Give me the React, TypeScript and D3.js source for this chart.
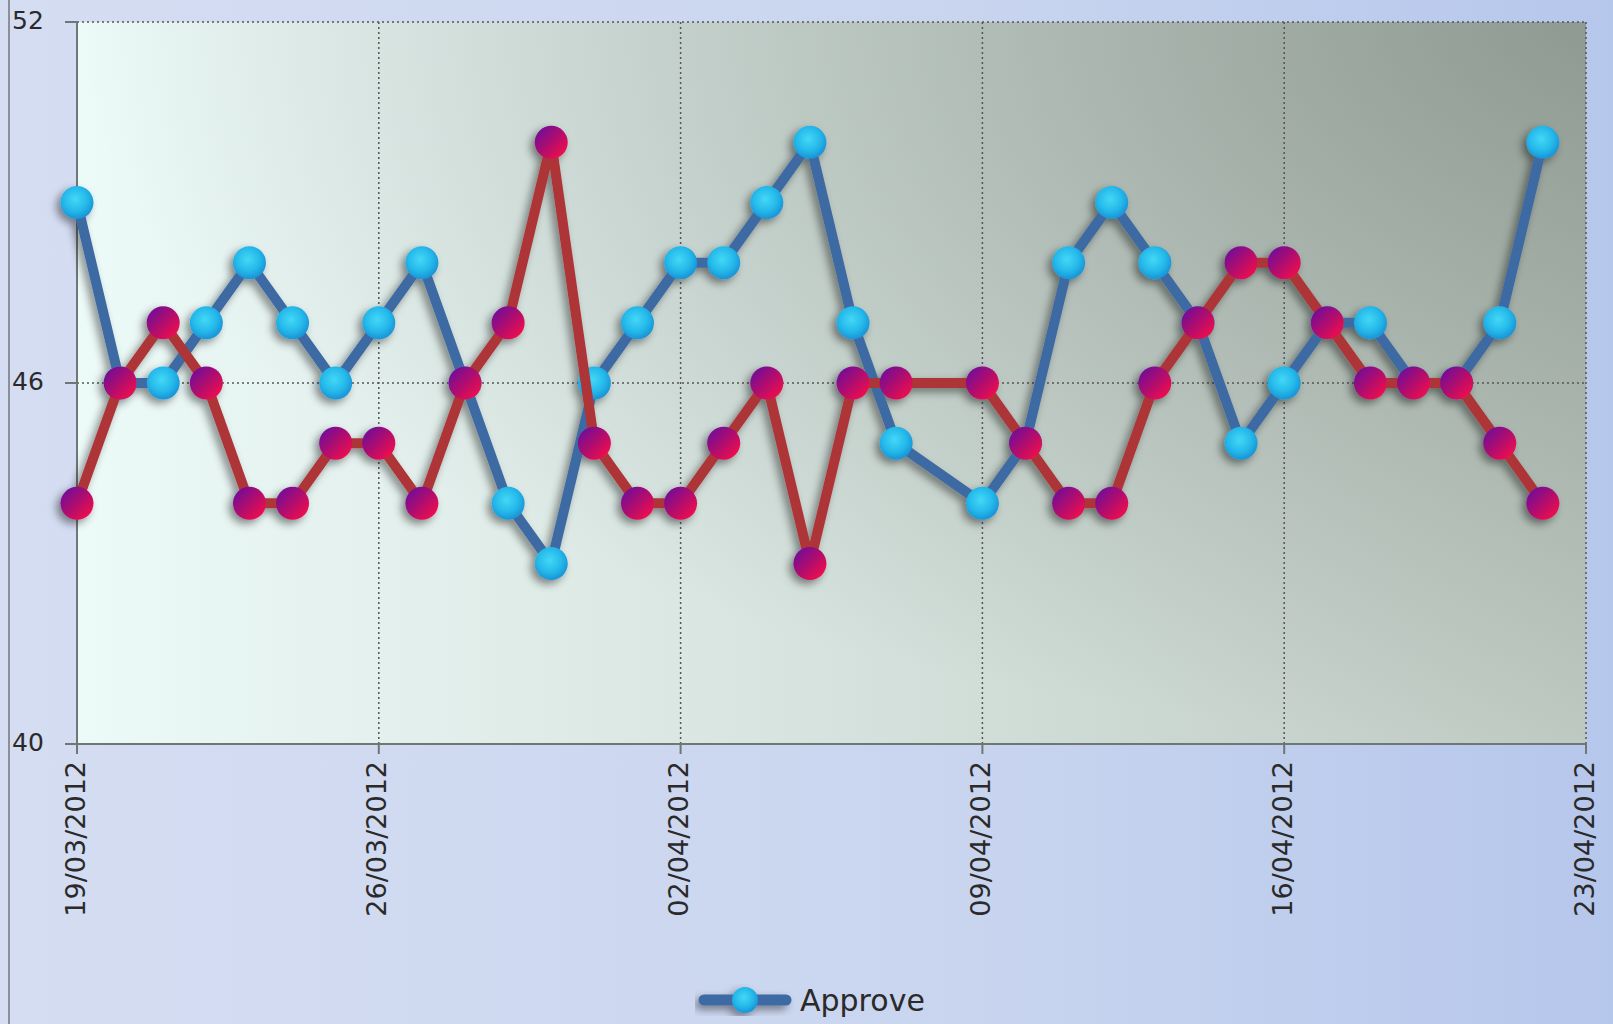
import React from 'react'
import * as d3 from 'd3'

// poll dates (08/04 missing in the source)
const dates = [
    '2012-03-19', '2012-03-20', '2012-03-21', '2012-03-22', '2012-03-23', '2012-03-24', '2012-03-25',
    '2012-03-26', '2012-03-27', '2012-03-28', '2012-03-29', '2012-03-30', '2012-03-31', '2012-04-01',
    '2012-04-02', '2012-04-03', '2012-04-04', '2012-04-05', '2012-04-06', '2012-04-07',
    '2012-04-09', '2012-04-10', '2012-04-11', '2012-04-12', '2012-04-13', '2012-04-14', '2012-04-15',
    '2012-04-16', '2012-04-17', '2012-04-18', '2012-04-19', '2012-04-20', '2012-04-21', '2012-04-22',
]
const approve = [
    49, 46, 46, 47, 48, 47, 46, 47, 48, 46, 44, 43, 46, 47, 48, 48, 49, 50, 47, 45,
    44, 45, 48, 49, 48, 47, 45, 46, 47, 47, 46, 46, 47, 50,
]
const disapprove = [
    44, 46, 47, 46, 44, 44, 45, 45, 44, 46, 47, 50, 45, 44, 44, 45, 46, 43, 46, 46,
    46, 45, 44, 44, 46, 47, 48, 48, 47, 46, 46, 46, 45, 44,
]
const xTicks = ['2012-03-19', '2012-03-26', '2012-04-02', '2012-04-09', '2012-04-16', '2012-04-23']
const yTicks = [40, 46, 52]

const W = 1613
const H = 1024
const plot = { left: 77, right: 1586, top: 22, bottom: 744 }
const font = '"DejaVu Sans", sans-serif'

const parse = d3.timeParse('%Y-%m-%d')
const fmt = d3.timeFormat('%d/%m/%Y')

export default function App() {
    const x = d3
        .scaleTime()
        .domain([parse(xTicks[0])!, parse(xTicks[xTicks.length - 1])!])
        .range([plot.left, plot.right])
    const y = d3.scaleLinear().domain([40, 52]).range([plot.bottom, plot.top])

    const series = [
        { name: 'Approve', values: approve, stroke: '#3d6aa2', marker: 'url(#blueBall)' },
        { name: 'Disapprove', values: disapprove, stroke: '#ad3538', marker: 'url(#redBall)' },
    ]

    const line = d3
        .line<{ d: Date; v: number }>()
        .x(p => x(p.d))
        .y(p => y(p.v))

    return (
        <svg
            width={W}
            height={H}
            style={{ position: 'fixed', left: 0, top: 0, fontFamily: font }}
        >
            <defs>
                <linearGradient id='pageBg' x1='0' y1='0' x2='1' y2='0'>
                    <stop offset='0' stopColor='#d5ddf2' />
                    <stop offset='0.6' stopColor='#c9d5ef' />
                    <stop offset='1' stopColor='#b6c7ec' />
                </linearGradient>
                <linearGradient id='plotBg' x1='0' y1='0' x2='1' y2='0'>
                    <stop offset='0' stopColor='#ecfaf8' />
                    <stop offset='0.5' stopColor='#d6e2dd' />
                    <stop offset='1' stopColor='#bdc9c1' />
                </linearGradient>
                <radialGradient id='plotShade' cx='1' cy='0' r='1'>
                    <stop offset='0' stopColor='#3c463e' stopOpacity='0.36' />
                    <stop offset='1' stopColor='#3c463e' stopOpacity='0' />
                </radialGradient>
                <radialGradient id='blueBall' cx='0.45' cy='0.4' r='0.6'>
                    <stop offset='0' stopColor='#43d8f6' />
                    <stop offset='0.6' stopColor='#25b9ea' />
                    <stop offset='1' stopColor='#1a93d6' />
                </radialGradient>
                <linearGradient id='redBall' x1='0.1' y1='0.1' x2='0.9' y2='0.9'>
                    <stop offset='0' stopColor='#6f0a9a' />
                    <stop offset='0.5' stopColor='#b00a6e' />
                    <stop offset='1' stopColor='#f4124a' />
                </linearGradient>
                <filter id='shadow' x='-10%' y='-10%' width='120%' height='120%'>
                    <feDropShadow dx='-4' dy='4' stdDeviation='4' floodColor='#000' floodOpacity='0.45' />
                </filter>
            </defs>

            <rect x={0} y={0} width={W} height={H} fill='url(#pageBg)' />
            <line x1={9} x2={9} y1={0} y2={H} stroke='#8a8f98' strokeWidth={2} />

            <rect
                x={plot.left}
                y={plot.top}
                width={plot.right - plot.left}
                height={plot.bottom - plot.top}
                fill='url(#plotBg)'
            />
            <rect
                x={plot.left}
                y={plot.top}
                width={plot.right - plot.left}
                height={plot.bottom - plot.top}
                fill='url(#plotShade)'
            />

            {/* grid */}
            {yTicks.slice(1).map(t => (
                <line
                    key={'gy' + t}
                    x1={plot.left}
                    x2={plot.right}
                    y1={y(t)}
                    y2={y(t)}
                    stroke='#555'
                    strokeWidth={1.5}
                    strokeDasharray='2,3'
                />
            ))}
            {xTicks.slice(1).map(t => (
                <line
                    key={'gx' + t}
                    x1={x(parse(t)!)}
                    x2={x(parse(t)!)}
                    y1={plot.top}
                    y2={plot.bottom}
                    stroke='#555'
                    strokeWidth={1.5}
                    strokeDasharray='2,3'
                />
            ))}

            {/* axes */}
            <line x1={plot.left} x2={plot.left} y1={plot.top} y2={plot.bottom} stroke='#6f7676' strokeWidth={2} />
            <line x1={plot.left} x2={plot.right} y1={plot.bottom} y2={plot.bottom} stroke='#6f7676' strokeWidth={2} />
            {yTicks.map(t => (
                <g key={'ty' + t}>
                    <line x1={plot.left - 12} x2={plot.left} y1={y(t)} y2={y(t)} stroke='#6f7676' strokeWidth={2} />
                    <text x={12} y={y(t)} dominantBaseline='middle' fontSize={25} fill='#2a2a2a'>
                        {t}
                    </text>
                </g>
            ))}
            {xTicks.map(t => {
                const px = x(parse(t)!)
                return (
                    <g key={'tx' + t}>
                        <line x1={px} x2={px} y1={plot.bottom} y2={plot.bottom + 10} stroke='#6f7676' strokeWidth={2} />
                        <text
                            transform={`translate(${px},${plot.bottom + 17}) rotate(-90)`}
                            textAnchor='end'
                            dominantBaseline='middle'
                            fontSize={27}
                            fill='#2a2a2a'
                        >
                            {fmt(parse(t)!)}
                        </text>
                    </g>
                )
            })}

            {/* series */}
            <g filter='url(#shadow)'>
                {series.map(s => {
                    const pts = dates.map((d, i) => ({ d: parse(d)!, v: s.values[i] }))
                    return (
                        <g key={s.name}>
                            <path
                                d={line(pts) || ''}
                                fill='none'
                                stroke={s.stroke}
                                strokeWidth={10}
                                strokeLinejoin='round'
                            />
                            {pts.map((p, i) => (
                                <circle key={i} cx={x(p.d)} cy={y(p.v)} r={16.5} fill={s.marker} />
                            ))}
                        </g>
                    )
                })}
            </g>

            {/* legend */}
            <g filter='url(#shadow)'>
                <line x1={704} x2={786} y1={1000} y2={1000} stroke='#3d6aa2' strokeWidth={11} strokeLinecap='round' />
                <circle cx={745} cy={1000} r={13} fill='url(#blueBall)' />
            </g>
            <text x={800} y={1011} fontSize={30} fill='#2a2a2a'>
                Approve
            </text>
        </svg>
    )
}
